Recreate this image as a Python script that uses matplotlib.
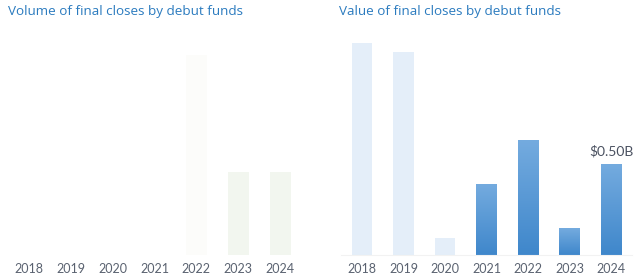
import matplotlib.pyplot as plt
import numpy as np
from matplotlib.colors import LinearSegmentedColormap

years = ["2018", "2019", "2020", "2021", "2022", "2023", "2024"]
# volume of final closes (count), most bars faded out in the picture
volume = [0, 0, 0, 0, 12, 5, 5]
volume_colors = ["#ffffff", "#ffffff", "#ffffff", "#ffffff", "#fcfcfa", "#f2f6ef", "#f2f6ef"]
# value of final closes ($B)
value = [1.165, 1.115, 0.093, 0.39, 0.63, 0.148, 0.50]
value_faded = [True, True, True, False, False, False, False]
value_label = "$0.50B"

title_color = "#2b7bbf"
tick_color = "#5a6270"

fig = plt.figure(figsize=(6.4, 2.79), dpi=100)

bottom = 24 / 279
height = 236.6 / 279
ax1 = fig.add_axes([8 / 640, bottom, 293 / 640, height])
ax2 = fig.add_axes([341.2 / 640, bottom, 290.8 / 640, height])

x = np.arange(len(years))

# left chart
ax1.bar(x, volume, width=0.5, color=volume_colors)
ax1.set_ylim(0, 14.2)

# right chart
cmap = LinearSegmentedColormap.from_list("g", ["#3f87cb", "#74abdf"])
bars = ax2.bar(x, value, width=0.5, color=["#e4eef9" if f else "#5b9bd8" for f in value_faded])
grad = np.linspace(0, 1, 256).reshape(-1, 1)
for b, f in zip(bars, value_faded):
    if f:
        continue
    x0, y0 = b.get_x(), b.get_y()
    im = ax2.imshow(grad, cmap=cmap, origin="lower", aspect="auto",
                    extent=[x0, x0 + b.get_width(), y0, y0 + b.get_height()], zorder=2)
    im.set_clip_path(b)
ax2.set_ylim(0, 1.3)
ax2.text(x[-1], value[-1] + 0.035, value_label, ha="center", va="bottom",
         fontsize=10, color="#4a5160", family="Lato")

for ax in (ax1, ax2):
    ax.set_xlim(-0.5, 6.5)
    ax.set_xticks(x)
    ax.set_xticklabels(years, fontsize=9, color=tick_color, family="Lato")
    ax.tick_params(axis="x", length=0, pad=6)
    ax.set_yticks([])
    for s in ax.spines.values():
        s.set_visible(False)
    ax.patch.set_alpha(0)

ax2.spines["bottom"].set_visible(True)
ax2.spines["bottom"].set_color("#f2f2f2")

fig.text(8 / 640, 1 - 11 / 279, "Volume of final closes by debut funds", fontsize=9.7,
         color=title_color, va="center", ha="left", family="Open Sans")
fig.text(339 / 640, 1 - 11 / 279, "Value of final closes by debut funds", fontsize=9.7,
         color=title_color, va="center", ha="left", family="Open Sans")

fig.savefig("out.png", dpi=100)
